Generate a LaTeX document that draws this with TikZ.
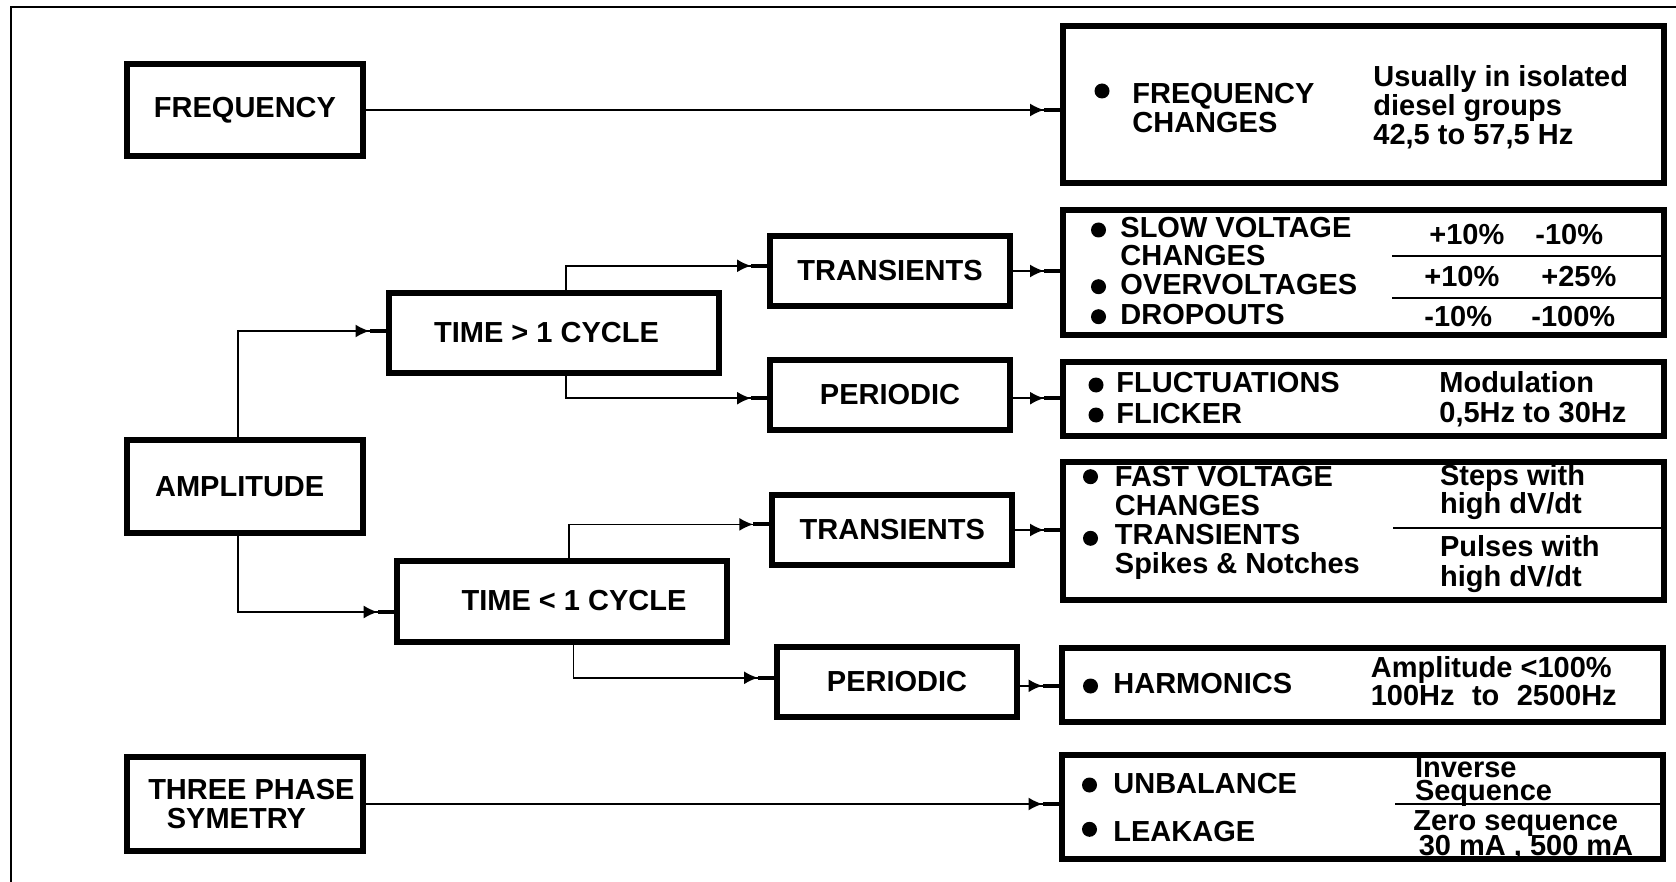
\documentclass[tikz,border=0pt]{standalone}
\usepackage{fontspec}
\setmainfont{Liberation Sans}
\usetikzlibrary{arrows.meta,decorations.markings}

\tikzset{
  catbox/.style={draw, line width=3pt, minimum width=118pt, minimum height=46pt, inner sep=0pt},
  timebox/.style={catbox, minimum width=165pt, minimum height=40pt},
  kindbox/.style={catbox, minimum width=120pt, minimum height=35pt},
  infobox/.style={draw, line width=3pt, minimum width=300.5pt, inner sep=0pt},
  txt/.style={inner sep=0pt, align=left, anchor=base west},
  dot/.style={circle, fill, inner sep=0pt, minimum size=7.5pt},
  feed/.style={line width=0.85pt, postaction={decorate},
    decoration={markings, mark=at position -8pt with {\arrow{Latex[length=7pt,width=6.5pt]}\fill (0pt,-1pt) rectangle (8pt,1pt);}}},
  rule/.style={line width=1pt}
}

\begin{document}
\begin{tikzpicture}[x=0.5pt, y=-0.5pt, font=\bfseries\fontsize{14.5}{14.5}\selectfont]
  \useasboundingbox (0,0) rectangle (1676,882);
  % Frame
  \draw[rule] (11,882) -- (11,7.5) -- (1676,7.5);
  % Quantities
  \node[catbox] (freq) at (245,110) {FREQUENCY};
  \node[catbox, minimum height=46.5pt] (ampl) at (245,486.5) {AMPLITUDE\hspace*{5.3pt}};
  \node[catbox, minimum height=47pt, align=left] (sym) at (245,804) {\hspace*{6.4pt}THREE PHASE\\\hspace*{15.7pt}SYMETRY};
  % Duration
  \node[timebox] (tlong) at (553.5,333) {TIME > 1 CYCLE\hspace*{7pt}};
  \node[timebox, minimum height=40.5pt] (tshort) at (561.6,601) {\hspace*{12.4pt}TIME < 1 CYCLE};
  % Kinds
  \node[kindbox] (tA) at (890,271) {TRANSIENTS};
  \node[kindbox] (pA) at (890,395) {PERIODIC};
  \node[kindbox] (tB) at (892.3,530) {TRANSIENTS};
  \node[kindbox] (pB) at (897,681.8) {PERIODIC};
  % Disturbances
  \node[infobox, minimum height=78.5pt] (fchg) at (1363.5,105) {};
  \node[infobox, minimum height=62.5pt] (slow) at (1363.5,272.5) {};
  \node[infobox, minimum height=37.25pt] (fluc) at (1363.5,398.8) {};
  \node[infobox, minimum height=69pt] (fast) at (1363.5,530.5) {};
  \node[infobox, minimum height=37pt] (harm) at (1362,685) {};
  \node[infobox, minimum height=52.25pt] (unbal) at (1362,807) {};
  % Bullets
  \foreach \x/\y [count=\i] in {1102/91, 1098.5/230, 1098.5/286.7, 1098.5/316.7, 1096/385, 1096/415,
      1090.5/476.7, 1090.5/538.3, 1090.5/686, 1089.5/785, 1089.5/829.3}
    \node[dot] (dot\i) at (\x,\y) {};
  % Texts (anchored on the last line)
  \node[txt] (fchg-l) at (1132,133) {FREQUENCY\\CHANGES};
  \node[txt] (fchg-r) at (1373,145) {Usually in isolated\\diesel groups\\42,5 to 57,5 Hz};
  \node[txt] (slow-l) at (1120,324) {SLOW VOLTAGE\\CHANGES\\OVERVOLTAGES\\DROPOUTS};
  \foreach \x/\y/\v [count=\i] in {1429/245/+10, 1535/245/-10, 1424/287/+10, 1541/287/+25, 1424/327/-10, 1531/327/-100}
    \node[txt] (pct\i) at (\x,\y) {\v\%};
  \node[txt] (fluc-l) at (1116,423) {FLUCTUATIONS\\[1pt]FLICKER};
  \node[txt] (fluc-r) at (1439,422) {Modulation\\0,5Hz to 30Hz};
  \node[txt] (fast-l) at (1114.5,573) {FAST VOLTAGE\\CHANGES\\TRANSIENTS\\Spikes \& Notches};
  \node[txt] (fast-r1) at (1439.7,513) {Steps with\\[-0.5pt]high dV/dt};
  \node[txt] (fast-r2) at (1439.7,586) {Pulses with\\[0.5pt]high dV/dt};
  \node[txt] (harm-l) at (1113,693.3) {HARMONICS};
  \node[txt] (harm-r) at (1370.4,705) {Amplitude <100\%\\[-0.5pt]100Hz\hspace{0.6em}to\hspace{0.6em}2500Hz};
  \node[txt] (unbal-l) at (1113,841.7) {UNBALANCE\\[9.4pt]LEAKAGE};
  \node[txt] (unbal-r1) at (1414.6,800) {Inverse\\[-3pt]Sequence};
  \node[txt] (unbal-r2) at (1413,855) {Zero sequence\\[-2pt]\hspace*{2.7pt}30 mA , 500 mA};
  % Dividers
  \draw[rule] (1392,256) -- (1662,256);
  \draw[rule] (1392,297.7) -- (1662,297.7);
  \draw[rule] (1393,528.3) -- (1662,528.3);
  \draw[rule] (1395,804) -- (1660,804);
  % Connectors
  \draw[feed] (freq) -- (freq -| fchg.west);
  \draw[feed] ([xshift=-3.5pt]ampl.north) |- ([yshift=1pt]tlong.west);
  \draw[feed] ([xshift=-3.5pt]ampl.south) |- ([yshift=-5.5pt]tshort.west);
  \draw[feed] ([xshift=6.4pt]tlong.north) |- ([yshift=2.6pt]tA.west);
  \draw[feed] ([xshift=6.4pt]tlong.south) |- ([yshift=-1.6pt]pA.west);
  \draw[feed] ([xshift=3.6pt]tshort.north) |- ([yshift=2.8pt]tB.west);
  \draw[feed] ([xshift=6pt]tshort.south) |- ([yshift=2pt]pB.west);
  \draw[feed] (tA) -- (tA -| slow.west);
  \draw[feed] ([yshift=-1.6pt]pA.east) -- ([yshift=-1.6pt]pA.east -| fluc.west);
  \draw[feed] (tB) -- (tB -| fast.west);
  \draw[feed] ([yshift=-2pt]pB.east) -- ([yshift=-2pt]pB.east -| harm.west);
  \draw[feed] (sym) -- (sym -| unbal.west);
\end{tikzpicture}
\end{document}
